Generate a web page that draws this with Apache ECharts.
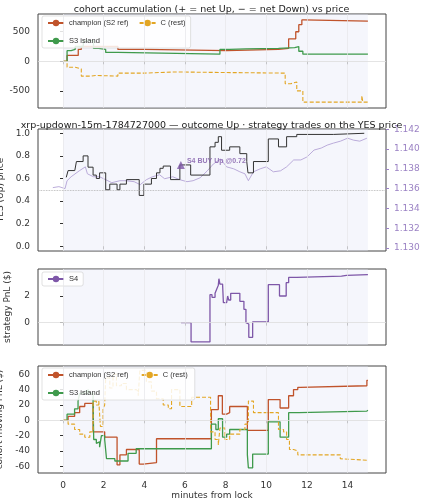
<!DOCTYPE html><html><head><meta charset="utf-8">
<script src="https://cdn.jsdelivr.net/npm/echarts@6/dist/echarts.min.js"></script>
<style>html,body{margin:0;padding:0;background:#fff}#c{width:423px;height:500px}</style></head><body><div id="c"></div>
<script>
const xTicks=[0,2,4,6,8,10,12,14];
const accChampion=[[0,0],[0.2,100],[0.75,200],[0.9,250],[2.7,200],[4,180],[8.05,200],[10.6,220],[11.1,380],[11.45,500],[11.6,620],[11.75,700],[11.85,680],[15,680]];
const accS3=[[0,0],[0.2,180],[0.4,200],[0.6,250],[1.0,350],[1.5,220],[1.75,200],[2.1,150],[2.7,120],[7.72,200],[8.2,210],[9.0,220],[10.6,230],[11.4,250],[11.6,170],[11.8,120],[15,120]];
const accC=[[0,0],[0.2,-100],[0.6,-130],[0.9,-250],[1.4,-240],[1.6,-250],[2.7,-200],[4,-180],[5.5,-190],[8,-200],[10.93,-380],[11.2,-350],[11.5,-500],[11.8,-690],[14.7,-580],[14.75,-690],[15,-690]];
const yesPrice=[[0.16,0.61],[0.25,0.67],[0.58,0.67],[0.66,0.75],[0.99,0.80],[1.23,0.70],[1.48,0.63],[1.64,0.60],[1.8,0.65],[2.1,0.50],[2.3,0.55],[2.66,0.50],[2.8,0.55],[3.12,0.59],[3.75,0.45],[3.98,0.55],[4.35,0.60],[4.6,0.65],[4.77,0.69],[4.93,0.71],[5.29,0.59],[5.75,0.72],[6.28,0.63],[7.23,0.88],[7.48,0.92],[7.64,0.97],[7.8,0.85],[8.2,0.88],[8.7,0.82],[9.04,0.75],[9.1,0.65],[9.37,0.75],[10.1,0.95],[10.6,0.88],[11.0,0.97],[11.5,0.99],[13.3,1.0],[14.82,1.0]];
const xrpPrice=[[-0.5,1.1361],[-0.2,1.1362],[0.1,1.1360],[0.2,1.1368],[0.4,1.1372],[0.8,1.1378],[1.1,1.1382],[1.2,1.1375],[1.5,1.1372],[1.8,1.1372],[2.1,1.1369],[2.4,1.1366],[2.8,1.1368],[3.1,1.1368],[3.5,1.1367],[3.8,1.1364],[4.1,1.1369],[4.4,1.1372],[4.75,1.1374],[5.0,1.1370],[5.4,1.1372],[5.75,1.1369],[6.1,1.1367],[6.4,1.1368],[6.75,1.1371],[7.1,1.1378],[7.4,1.1385],[7.75,1.1390],[8.05,1.1382],[8.4,1.1380],[8.7,1.1377],[8.95,1.1375],[9.12,1.1368],[9.37,1.1377],[9.7,1.1380],[10.0,1.1382],[10.35,1.1377],[10.7,1.1378],[11.0,1.1382],[11.35,1.1389],[11.7,1.1389],[12.0,1.1392],[12.35,1.1399],[12.7,1.1401],[13.0,1.1404],[13.3,1.1406],[13.65,1.1408],[14.0,1.1411],[14.3,1.1409],[14.6,1.1408],[14.95,1.1411]];
const buyMark=[5.8,0.72];
const s4Pnl=[[5.8,0],[6.3,-1.45],[7.23,2.1],[7.33,1.9],[7.48,2.2],[7.56,2.5],[7.64,2.8],[7.67,3.3],[7.72,2.9],[7.85,2.8],[7.89,1.5],[8.05,1.6],[8.1,2.0],[8.15,1.7],[8.25,2.2],[8.7,1.6],[8.9,1.0],[9.0,0],[9.04,-0.1],[9.14,-1.1],[9.33,0.05],[10.1,2.85],[10.65,2.0],[10.98,3.0],[11.1,3.4],[11.5,3.5],[13.7,3.55],[13.95,3.6],[15,3.65]];
const pnlChampion=[[0,0],[0.25,5],[0.57,10],[0.82,18],[1.07,22],[1.48,-15],[2.05,-22],[2.66,-58],[2.8,-45],[3.12,-38],[3.75,-57],[3.95,-55],[4.6,-24],[7.3,14],[7.64,32],[7.84,8],[8.05,10],[8.2,18],[9.07,-13],[10.1,27],[10.68,16],[11.1,32],[11.34,40],[11.55,43],[11.67,45],[14.95,52],[15,52]];
const pnlS3=[[0,0],[0.2,8],[0.57,15],[0.74,25],[0.82,35],[1.07,38],[1.18,33],[1.23,40],[1.32,35],[1.48,25],[1.51,-25],[1.64,-30],[1.72,-28],[1.8,-35],[1.89,-20],[2.05,-25],[2.14,-50],[2.55,-53],[3.2,-43],[3.6,-37],[7.3,-5],[7.52,-12],[7.64,2],[7.85,-22],[8.05,-18],[8.2,-12],[9.07,-45],[9.12,-62],[9.33,-44],[10.1,-2],[10.68,-22],[11.1,10],[11.6,12],[14.95,13],[15,13]];
const pnlC=[[0,0],[0.25,-5],[0.57,-12],[0.82,-18],[1.07,-22],[1.32,-15],[1.48,25],[1.64,20],[1.76,25],[1.84,-8],[1.97,15],[2.05,20],[2.1,55],[2.3,42],[2.46,60],[2.63,45],[2.87,48],[3.12,40],[3.6,38],[3.7,32],[3.78,65],[4.1,50],[4.35,38],[4.6,28],[4.93,20],[5.18,15],[5.34,40],[5.75,18],[6.33,30],[7.26,-15],[7.48,-25],[7.64,-32],[7.72,-10],[7.97,-25],[8.2,-18],[8.7,-12],[8.95,-5],[9.12,25],[9.37,10],[10.6,-12],[10.85,-15],[11.0,-25],[11.14,-38],[11.34,-40],[11.55,-45],[13.64,-50],[13.72,-52],[15,-52]];

const C_CH='#c0532b',C_S3='#3f9a4c',C_C='#e3a624',C_P='#7e57a8';
const grids=[{top:14,height:94},{top:129,height:122},{top:269,height:76},{top:366,height:107}];
const YI=[0,1,3,4];
const xr={min:-1.23,max:15.89};
const ax={color:'#333',fontSize:9,fontFamily:'DejaVu Sans'};
function xAxis(i,labels){return {gridIndex:i,type:'value',min:xr.min,max:xr.max,
 axisLine:{show:false},axisTick:{show:true,customValues:xTicks,length:3,lineStyle:{color:'#333'}},
 axisLabel:{show:labels,customValues:xTicks,...ax},splitLine:{show:false},
 name:labels?'minutes from lock':'',nameLocation:'middle',nameGap:18,nameTextStyle:ax};}
function yAxis(i,min,max,ticks,name,extra){return Object.assign({gridIndex:i,type:'value',min,max,
 axisLine:{show:false},axisTick:{show:true,customValues:ticks,length:3,lineStyle:{color:'#333'}},
 axisLabel:{customValues:ticks,...ax},splitLine:{show:false},
 name,nameLocation:'middle',nameGap:26,nameTextStyle:ax},extra||{});}
function vgrid(i){return {type:'line',xAxisIndex:i,yAxisIndex:YI[i],data:[],silent:true,
 markLine:{silent:true,symbol:'none',label:{show:false},lineStyle:{color:'#e6e6ea',width:0.7,type:'solid'},data:xTicks.map(v=>({xAxis:v}))},
 markArea:{silent:true,itemStyle:{color:'rgba(225,228,245,0.35)'},data:[[{xAxis:0},{xAxis:15}]]}};}
function hline(xi,yi,v,col,type){return {type:'line',xAxisIndex:xi,yAxisIndex:yi,data:[],silent:true,
 markLine:{silent:true,symbol:'none',label:{show:false},lineStyle:{color:col,width:0.8,type},data:[{yAxis:v}]}};}
function step(xi,yi,name,data,col,w,dash,z){return {type:'line',name,xAxisIndex:xi,yAxisIndex:yi,data,step:'end',symbol:'none',z:z||3,
 lineStyle:{color:col,width:w,type:dash?[4,2]:'solid'},itemStyle:{color:col}};}
const lg={itemWidth:16,itemHeight:8,itemGap:10,padding:[3,5],backgroundColor:'rgba(255,255,255,0.85)',borderColor:'#ccc',borderWidth:0.6,borderRadius:2,textStyle:{fontSize:7.5,color:'#333'}};
const opt={animation:false,
 title:[{text:'cohort accumulation (+ = net Up, − = net Down) vs price',left:'center',top:0,textStyle:{fontSize:9.5,fontWeight:'normal',color:'#222',fontFamily:'DejaVu Sans'}},
  {text:'xrp-updown-15m-1784727000 — outcome Up · strategy trades on the YES price',left:'center',top:116,textStyle:{fontSize:9.5,fontWeight:'normal',color:'#222',fontFamily:'DejaVu Sans'}}],
 grid:grids.map(g=>({left:38,right:37,top:g.top,height:g.height,show:true,borderColor:'#444',borderWidth:1,backgroundColor:'transparent',outerBoundsMode:'none',containLabel:false})),
 legend:[{...lg,left:42,top:16,width:150,data:['champion (S2 ref)','C (rest)','S3 island']},
  {...lg,left:42,top:272,data:['S4']},
  {...lg,left:42,top:368,width:150,data:['champion (S2 ref) ','C (rest) ','S3 island ']}],
 xAxis:[xAxis(0,false),xAxis(1,false),xAxis(2,false),xAxis(3,true)],
 yAxis:[yAxis(0,-790,800,[-500,0,500],'acc. net YES (shares)'),
  yAxis(1,-0.042,1.038,[0,0.2,0.4,0.6,0.8,1.0],'YES (Up) price',{axisLabel:{customValues:[0,0.2,0.4,0.6,0.8,1.0],...ax,formatter:v=>v.toFixed(1)}}),
  {gridIndex:1,type:'value',position:'right',min:1.12969,max:1.14203,axisLine:{show:false},
   axisTick:{show:true,customValues:[1.130,1.132,1.134,1.136,1.138,1.140,1.142],length:3,lineStyle:{color:'#9b82c4'}},
   axisLabel:{customValues:[1.130,1.132,1.134,1.136,1.138,1.140,1.142],...ax,color:'#9b82c4',formatter:v=>v.toFixed(3)},splitLine:{show:false},
   name:'XRP/USD (strike dotted = YES 0.5)',nameLocation:'middle',nameGap:34,nameRotate:-90,nameTextStyle:{...ax,fontSize:7.5,color:'#9b82c4'}},
  yAxis(2,-1.68,4.03,[0,2],'strategy PnL ($)'),
  yAxis(3,-68.6,70.7,[-60,-40,-20,0,20,40,60],'cohort moving PnL ($)')],
 series:[
  vgrid(0),vgrid(1),vgrid(2),vgrid(3),
  hline(0,0,0,'#ddd','solid'),hline(2,3,0,'#ddd','solid'),hline(3,4,0,'#ddd','solid'),
  hline(1,1,0.5,'#aaa','dotted'),
  step(0,0,'champion (S2 ref)',accChampion,C_CH,1.3),
  step(0,0,'S3 island',accS3,C_S3,1.3),
  step(0,0,'C (rest)',accC,C_C,1.1,true),
  {type:'line',xAxisIndex:1,yAxisIndex:2,data:xrpPrice,symbol:'none',lineStyle:{color:'#b3a3d6',width:0.9},z:2},
  step(1,1,'YES',yesPrice,'#333',1.0,false,4),
  {type:'scatter',xAxisIndex:1,yAxisIndex:1,data:[buyMark],symbol:'triangle',symbolSize:8,itemStyle:{color:C_P},z:5,
   label:{show:true,position:'right',distance:2,formatter:'S4 BUY Up @0.72',fontSize:7,fontWeight:'bold',color:C_P,offset:[0,-4]}},
  step(2,3,'S4',s4Pnl,C_P,1.3),
  step(3,4,'champion (S2 ref) ',pnlChampion,C_CH,1.3),
  step(3,4,'S3 island ',pnlS3,C_S3,1.3),
  step(3,4,'C (rest) ',pnlC,C_C,1.1,true)
 ]};
const ch=echarts.init(document.getElementById('c'));
ch.setOption(opt);
</script></body></html>
